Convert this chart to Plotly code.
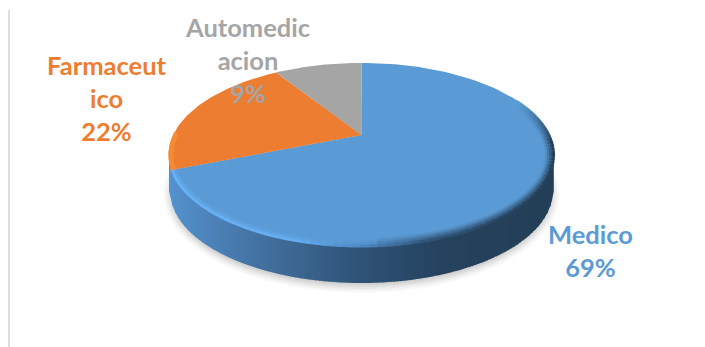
import numpy as np
import plotly.graph_objects as go

# ---- data ----
categories = ["Medico", "Farmaceutico", "Automedicacion"]
values = [69, 22, 9]
label_lines = [["Medico"], ["Farmaceut", "ico"], ["Automedic", "acion"]]
slice_colors = ["#5b9bd5", "#ed7d31", "#a5a5a5"]
label_colors = ["#5b9bd5", "#ed7d31", "#a5a5a5"]

# ---- drawing geometry (pixel space of the 705x347 page) ----
W, H = 705, 347
APEX = (361.5, 135.0)
A_PROJ, B_PROJ, PERSP = 188.4, 87.7, 0.217
DEPTH = 36
ELL_C = (APEX[0], APEX[1] + B_PROJ * PERSP / (1 - PERSP ** 2))
ELL_A = A_PROJ / np.sqrt(1 - PERSP ** 2)
ELL_B = B_PROJ / (1 - PERSP ** 2)
LABEL_POS = [(590, 250), (107, 98), (247, 60)]
FACE_RGB = (91, 155, 213)


def project(theta):
    """Clockwise angle from 12 o'clock on the disc -> page pixel."""
    u, v = np.sin(theta), np.cos(theta)
    w = 1 + PERSP * v
    return APEX[0] + A_PROJ * u / w, APEX[1] - B_PROJ * v / w


def interp_rgb(stops, x):
    xs = [s[0] for s in stops]
    return [float(np.interp(x, xs, [s[1][i] for s in stops])) for i in range(3)]


def css(rgb):
    return "rgb(%d,%d,%d)" % tuple(int(round(c)) for c in rgb)


def lower_arc(x, c_y, a=ELL_A, b=ELL_B):
    r = np.clip(1 - ((x - ELL_C[0]) / a) ** 2, 0, 1)
    return c_y + b * np.sqrt(r)


fig = go.Figure()


def poly(xs, ys, color):
    fig.add_trace(go.Scatter(x=list(xs), y=list(ys), mode="lines", fill="toself",
                             fillcolor=color, line=dict(width=0, color=color),
                             hoverinfo="skip", showlegend=False))


def stroke(xs, ys, color, width):
    fig.add_trace(go.Scatter(x=list(xs), y=list(ys), mode="lines",
                             line=dict(width=width, color=color, simplify=False),
                             hoverinfo="skip", showlegend=False))


# soft shadow
for k, alpha in zip(range(5), [0.04, 0.05, 0.06, 0.07, 0.08]):
    t = np.linspace(0, 2 * np.pi, 160)
    grow = 9 - 2 * k
    poly(ELL_C[0] + (ELL_A + grow - 4) * np.cos(t),
         ELL_C[1] + DEPTH + 3 + (ELL_B + grow - 2) * np.sin(t),
         "rgba(90,90,90,%.3f)" % alpha)

# side wall, shaded strip by strip from left to right
wall_stops = [(168, (84, 146, 208)), (200, (78, 134, 190)), (250, (68, 116, 165)),
              (300, (59, 100, 142)), (360, (46, 82, 118)), (440, (37, 66, 94)),
              (556, (35, 62, 86))]
edges = np.arange(ELL_C[0] - ELL_A + 0.5, ELL_C[0] + ELL_A - 0.5, 3.0)
for x0, x1 in zip(edges[:-1], edges[1:]):
    xx = np.linspace(x0, x1 + 0.8, 3)
    top = lower_arc(xx, ELL_C[1]) - 1
    bot = lower_arc(xx, ELL_C[1] + DEPTH, ELL_A - 1.5, ELL_B)
    poly(np.r_[xx, xx[::-1]], np.r_[top, bot[::-1]], css(interp_rgb(wall_stops, x0)))

# top face wedges, taken from the values
fractions = np.array(values, float) / sum(values)
bounds = np.r_[0, np.cumsum(fractions)] * 2 * np.pi
for i, col in enumerate(slice_colors):
    th = np.linspace(bounds[i], bounds[i + 1], 120)
    px, py = project(th)
    poly(np.r_[APEX[0], px], np.r_[APEX[1], py], col)

# bevel: bands inside the Medico rim, blending from the edge colour into the face colour
edge_stops = [(168, (104, 178, 245)), (300, (100, 174, 242)), (370, (76, 132, 188)),
              (430, (48, 84, 120)), (556, (36, 62, 86))]
band_depth = [8.0, 6.0, 4.0, 2.0, 0.7]
band_mix = [0.15, 0.4, 0.65, 0.85, 1.0]
th = np.linspace(np.pi * 0.36, bounds[1], 90)
px, py = project(th)
sx = lambda d: ELL_C[0] + (px - ELL_C[0]) * (ELL_A - d) / ELL_A
sy = lambda d: ELL_C[1] + (py - ELL_C[1]) * (ELL_B - d) / ELL_B
fade = np.clip((th - np.pi * 0.36) / (np.pi * 0.16), 0, 1)
for d, mix in zip(band_depth, band_mix):
    bx, by = sx(d), sy(d)
    for j in range(len(th) - 1):
        # on the bright left part the highlight is narrower than the dark right part
        reach = 1.0 if px[j] > 380 else (mix ** 1.5)
        m = mix * reach * fade[j]
        e = interp_rgb(edge_stops, px[j])
        stroke(bx[j:j + 2], by[j:j + 2], css([f + (c - f) * m for f, c in zip(FACE_RGB, e)]), 2.4)

# orange edge highlight
th = np.linspace(bounds[1], bounds[1] + 0.4, 20)
px, py = project(th)
stroke(px + 2.5, py, "#f58b35", 5)

# the thin rule at the left of the frame
grid_x = [9, 9]
grid_y = [10, 347]
stroke(grid_x, grid_y, "#dedede", 2)

# labels
annotations = []
for name, lines, val, col, pos in zip(categories, label_lines, values, label_colors, LABEL_POS):
    annotations.append(dict(x=pos[0], y=pos[1], xref="x", yref="y", showarrow=False,
                            text="<br>".join(lines + ["%d%%" % val]),
                            font=dict(family="Lato", size=25.5, color=col, weight="bold"),
                            align="center", xanchor="center", yanchor="middle"))

fig.update_layout(width=W, height=H, autosize=False, margin=dict(l=0, r=0, t=0, b=0),
                  paper_bgcolor="white", plot_bgcolor="white", showlegend=False,
                  annotations=annotations,
                  xaxis=dict(range=[0, W], visible=False, fixedrange=True),
                  yaxis=dict(range=[H, 0], visible=False, fixedrange=True))
fig.write_html("out.html", config=dict(displayModeBar=False),
               post_script="document.body.style.margin='0';document.documentElement.style.overflow='hidden';")
